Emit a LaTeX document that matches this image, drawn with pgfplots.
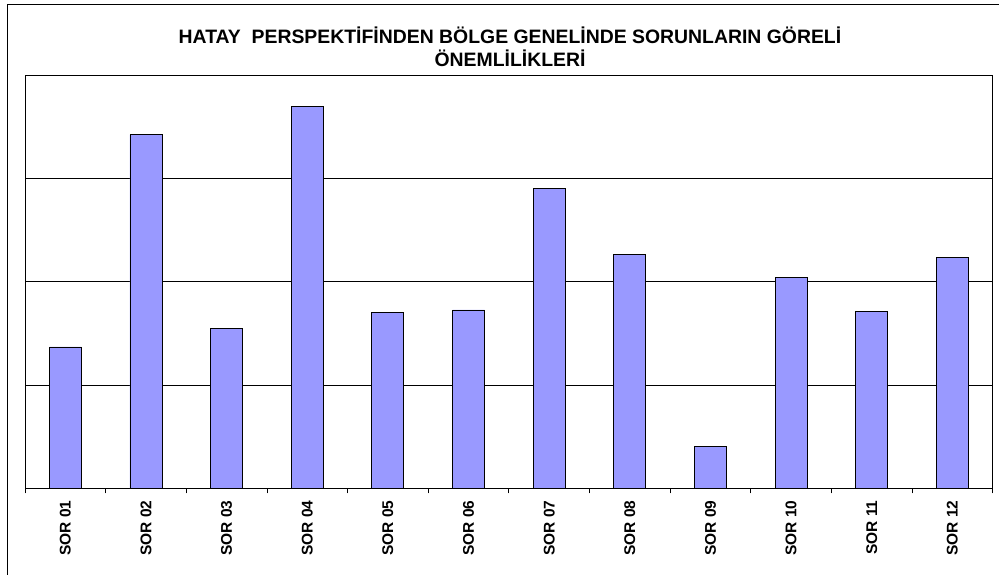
\documentclass[border=0pt]{standalone}
\usepackage{fontspec}
\setmainfont{Liberation Sans}
\usepackage{pgfplots}
\pgfplotsset{compat=1.18}
\definecolor{barblue}{HTML}{9999FF}
\begin{document}
\begin{tikzpicture}[x=1pt,y=1pt]
\useasboundingbox (-25,-85.7) rectangle (974,488.3);
\draw[line width=1pt,black] (-18,-95) -- (-18,483.3) -- (990,483.3);
\begin{axis}[
  scale only axis, width=967.7pt, height=413.3pt,
  xmin=0.5, xmax=12.5, ymin=0, ymax=4,
  xtick={1,...,12},
  xticklabels={SOR 01,SOR 02,SOR 03,SOR 04,SOR 05,SOR 06,SOR 07,SOR 08,SOR 09,SOR 10,SOR 11,SOR 12},
  minor xtick={0.5,1.5,...,12.5},
  ytick={1,2,3}, yticklabels={},
  major tick length=0pt, minor tick length=5pt,
  tick align=outside, xtick pos=left, ytick pos=left,
  major tick style={draw=none},
  minor tick style={black, line width=0.8pt},
  ymajorgrids, grid style={black, line width=0.8pt},
  axis line style={black, line width=1pt},
  xticklabel style={rotate=90, anchor=east, inner sep=0pt,
    font=\fontsize{15.5}{18}\selectfont\bfseries},
  xticklabel shift=12pt,
  ybar, bar width=32pt,
]
\addplot[fill=barblue, draw=black, line width=0.8pt] coordinates {
 (1,1.368) (2,3.423) (3,1.545) (4,3.694) (5,1.704) (6,1.726)
 (7,2.900) (8,2.261) (9,0.403) (10,2.045) (11,1.713) (12,2.232)};
\end{axis}
\node[anchor=base, inner sep=0pt, font=\fontsize{19.4}{23.5}\selectfont\bfseries] at (485,444.8) {HATAY\ \ PERSPEKTİFİNDEN BÖLGE GENELİNDE SORUNLARIN GÖRELİ};
\node[anchor=base, inner sep=0pt, font=\fontsize{19.4}{23.5}\selectfont\bfseries] at (485,421.3) {ÖNEMLİLİKLERİ};
\end{tikzpicture}
\end{document}
